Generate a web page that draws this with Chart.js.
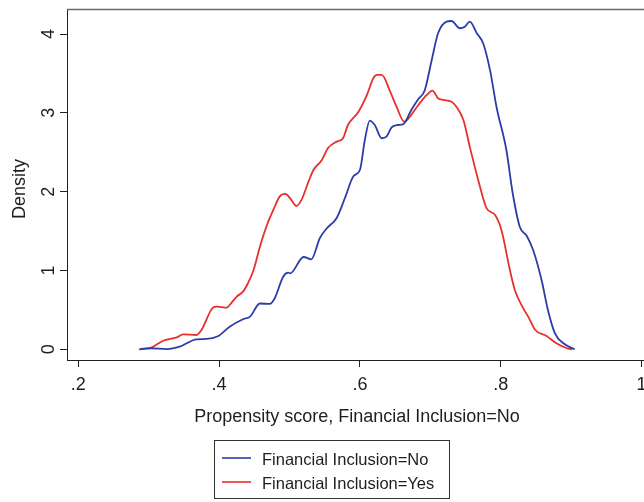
<!DOCTYPE html>
<html>
<head>
<meta charset="utf-8">
<script src="https://cdn.jsdelivr.net/npm/chart.js@4"></script>
<style>
  html, body { margin: 0; padding: 0; background: #fff; overflow: hidden; }
  #wrap { width: 644px; height: 502px; overflow: hidden; position: relative; }
  canvas { display: block; }
</style>
</head>
<body>
<div id="wrap"><canvas id="c" width="720" height="502"></canvas></div>
<script>
// Kernel density of the propensity score, by financial inclusion status
const seriesNames = ['Financial Inclusion=No', 'Financial Inclusion=Yes'];
const xTitle = 'Propensity score, Financial Inclusion=No';
const yTitle = 'Density';

const xTickValues = [0.2, 0.4, 0.6, 0.8, 1.0];
const xTickLabels = ['.2', '.4', '.6', '.8', '1'];
const yTickValues = [0, 1, 2, 3, 4];
const yTickLabels = ['0', '1', '2', '3', '4'];

// Financial Inclusion=No
const noX = [0.288, 0.302, 0.326, 0.344, 0.368, 0.382, 0.399, 0.415, 0.434, 0.444,
             0.458, 0.472, 0.479, 0.491, 0.498, 0.501, 0.520, 0.531, 0.543, 0.553,
             0.567, 0.579, 0.591, 0.600, 0.607, 0.614, 0.621, 0.631, 0.638, 0.645,
             0.654, 0.662, 0.673, 0.683, 0.692, 0.702, 0.711, 0.723, 0.730, 0.742,
             0.749, 0.756, 0.766, 0.775, 0.785, 0.794, 0.808, 0.817, 0.827, 0.837,
             0.846, 0.858, 0.867, 0.877, 0.889, 0.905];
const noY = [0.003, 0.013, 0.002, 0.033, 0.127, 0.131, 0.169, 0.287, 0.381, 0.414,
             0.581, 0.575, 0.647, 0.921, 0.972, 0.964, 1.171, 1.142, 1.409, 1.536,
             1.666, 1.926, 2.199, 2.275, 2.656, 2.901, 2.846, 2.678, 2.701, 2.815,
             2.846, 2.859, 3.037, 3.176, 3.284, 3.671, 4.010, 4.157, 4.166, 4.074,
             4.094, 4.157, 4.010, 3.883, 3.532, 3.075, 2.529, 1.980, 1.556, 1.438,
             1.260, 0.879, 0.499, 0.203, 0.076, 0.000];

// Financial Inclusion=Yes
const yesX = [0.286, 0.302, 0.320, 0.340, 0.349, 0.368, 0.375, 0.392, 0.397, 0.411,
              0.415, 0.425, 0.434, 0.441, 0.449, 0.458, 0.468, 0.477, 0.486, 0.494,
              0.501, 0.510, 0.517, 0.527, 0.534, 0.546, 0.555, 0.567, 0.576, 0.583,
              0.598, 0.610, 0.619, 0.624, 0.631, 0.643, 0.652, 0.663, 0.671, 0.683,
              0.695, 0.703, 0.711, 0.718, 0.730, 0.737, 0.747, 0.756, 0.768, 0.780,
              0.792, 0.801, 0.813, 0.820, 0.832, 0.839, 0.849, 0.865, 0.879, 0.894,
              0.901];
const yesY = [0.000, 0.014, 0.105, 0.152, 0.190, 0.181, 0.245, 0.533, 0.541, 0.528,
              0.562, 0.668, 0.731, 0.838, 1.006, 1.302, 1.577, 1.768, 1.937, 1.971,
              1.916, 1.819, 1.895, 2.127, 2.275, 2.402, 2.558, 2.635, 2.678, 2.846,
              3.015, 3.227, 3.439, 3.481, 3.481, 3.269, 3.079, 2.888, 2.952, 3.100,
              3.227, 3.282, 3.185, 3.164, 3.142, 3.079, 2.910, 2.571, 2.149, 1.789,
              1.704, 1.514, 1.006, 0.753, 0.520, 0.414, 0.245, 0.169, 0.076, 0.013,
              0.000];

const seriesColors = ['#2b3da6', '#e8302a'];
const FONT = '"Liberation Sans", Arial, Helvetica, sans-serif';
const INK = '#1e1e1e';

const toPoints = (xs, ys) => xs.map((x, i) => ({ x: x, y: ys[i] }));

// Axis labels, titles, the top frame line and the boxed legend
const decor = {
  id: 'decor',
  afterDraw(chart) {
    const { ctx, chartArea: a, scales } = chart;
    const xs = scales.x, ys = scales.y;
    ctx.save();

    ctx.strokeStyle = '#6a6a6a';
    ctx.lineWidth = 1.5;
    ctx.beginPath();
    ctx.moveTo(a.left, a.top + 0.5);
    ctx.lineTo(a.right, a.top + 0.5);
    ctx.stroke();

    ctx.fillStyle = INK;
    ctx.font = '18px ' + FONT;

    ctx.textAlign = 'center';
    ctx.textBaseline = 'alphabetic';
    xTickValues.forEach((v, i) => {
      ctx.fillText(xTickLabels[i], xs.getPixelForValue(v), a.bottom + 29.5);
    });

    yTickValues.forEach((v, i) => {
      ctx.save();
      ctx.translate(a.left - 13.5, ys.getPixelForValue(v));
      ctx.rotate(-Math.PI / 2);
      ctx.fillText(yTickLabels[i], 0, 0);
      ctx.restore();
    });

    ctx.fillText(xTitle, 357, 422);

    ctx.save();
    ctx.translate(25, 189);
    ctx.rotate(-Math.PI / 2);
    ctx.fillText(yTitle, 0, 0);
    ctx.restore();

    // legend
    ctx.strokeStyle = '#333';
    ctx.lineWidth = 1;
    ctx.strokeRect(214.5, 440.5, 235, 58);
    ctx.font = '16.5px ' + FONT;
    ctx.textAlign = 'left';
    const rows = [458, 482];
    seriesNames.forEach((name, i) => {
      ctx.strokeStyle = seriesColors[i];
      ctx.lineWidth = 1.6;
      ctx.beginPath();
      ctx.moveTo(222, rows[i]);
      ctx.lineTo(251, rows[i]);
      ctx.stroke();
      ctx.fillStyle = INK;
      ctx.fillText(name, 262, rows[i] + 7);
    });

    ctx.restore();
  }
};

const axisLook = {
  grid: { display: true, drawOnChartArea: false, drawTicks: true, tickLength: 7, color: '#222', lineWidth: 1 },
  border: { display: true, color: '#222', width: 1 },
  ticks: { display: false }
};

new Chart(document.getElementById('c'), {
  type: 'line',
  data: {
    datasets: [
      {
        label: seriesNames[0],
        data: toPoints(noX, noY),
        borderColor: seriesColors[0],
        borderWidth: 1.8,
        pointRadius: 0,
        fill: false,
        cubicInterpolationMode: 'monotone'
      },
      {
        label: seriesNames[1],
        data: toPoints(yesX, yesY),
        borderColor: seriesColors[1],
        borderWidth: 1.8,
        pointRadius: 0,
        fill: false,
        cubicInterpolationMode: 'monotone'
      }
    ]
  },
  options: {
    responsive: false,
    animation: false,
    devicePixelRatio: 1,
    layout: { padding: { top: 9, right: 20, left: 0, bottom: 0 } },
    plugins: { legend: { display: false }, tooltip: { enabled: false } },
    scales: {
      x: Object.assign({
        type: 'linear',
        min: 0.184,
        max: 1.083,
        afterBuildTicks: s => { s.ticks = xTickValues.map(v => ({ value: v })); },
        afterFit: s => { s.height = 142; }
      }, axisLook),
      y: Object.assign({
        type: 'linear',
        min: -0.136,
        max: 4.318,
        afterBuildTicks: s => { s.ticks = yTickValues.map(v => ({ value: v })); },
        afterFit: s => { s.width = 67; }
      }, axisLook)
    }
  },
  plugins: [decor]
});
</script>
</body>
</html>
